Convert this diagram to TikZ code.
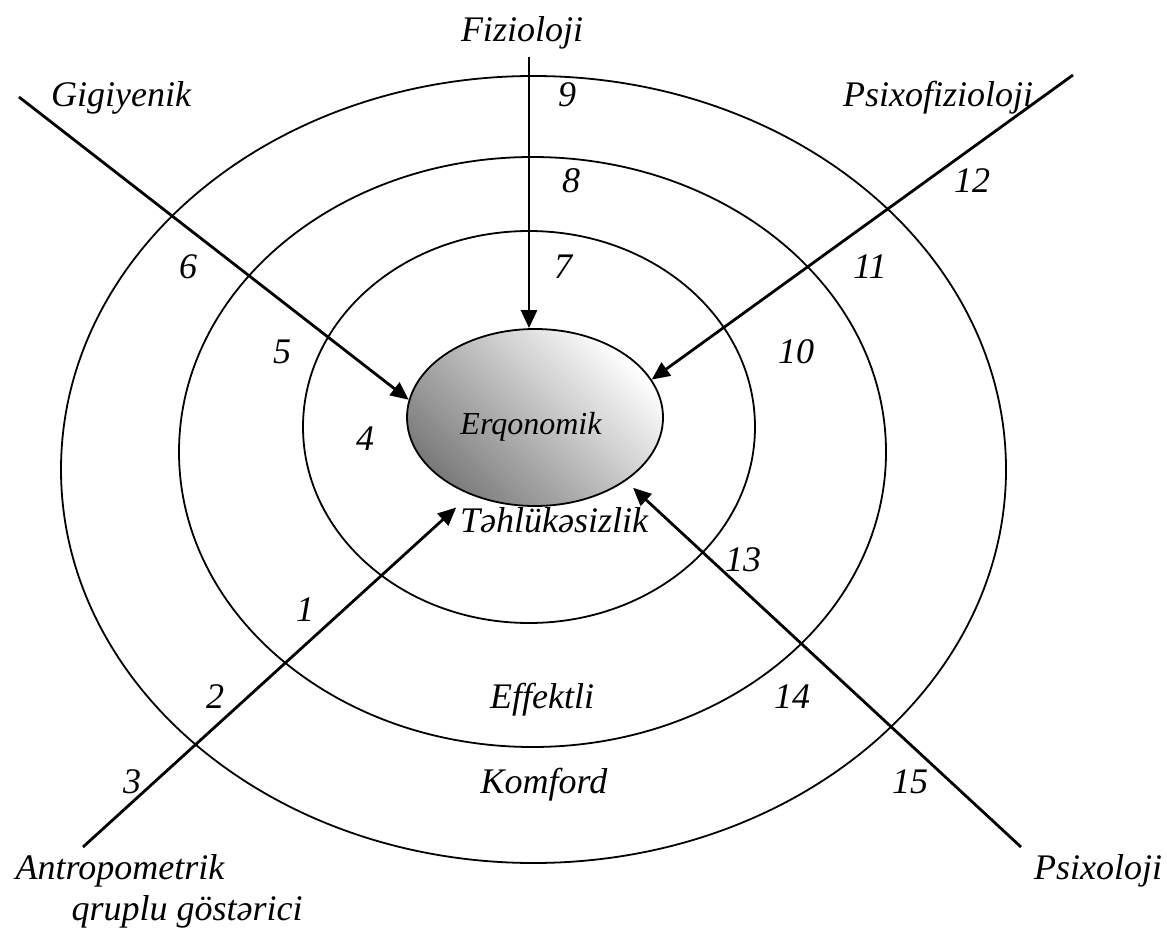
\documentclass[tikz,border=0pt]{standalone}
\usepackage{fontspec}
\setmainfont{Liberation Serif}
\usetikzlibrary{arrows.meta,shapes.geometric}
\tikzset{
  ring/.style={draw, line width=1.8pt},
  feed/.style={line width=2.8pt, -{Triangle[length=18pt,width=16pt]}},
  lbl/.style={anchor=base, inner sep=0pt, font=\fontsize{36}{40}\selectfont\itshape},
}
\begin{document}
\begin{tikzpicture}[x=1pt, y=-1pt]
    \useasboundingbox (0,0) rectangle (1167,928);

    % Rings
    \draw[ring] (533.5,469.5) ellipse [x radius=472.5, y radius=393.5];
    \draw[ring] (532.5,452) ellipse [x radius=353.5, y radius=295];
    \draw[ring] (529,427) ellipse [x radius=226, y radius=196];

    % Centre
    \node[ellipse, draw, line width=1.8pt, minimum width=256pt, minimum height=177pt,
          inner sep=0pt, top color=white, bottom color=black!52, shading angle=-45] (erq) at (535,417.5) {};
    \node[anchor=base, inner sep=0pt, font=\fontsize{32}{34}\selectfont\itshape] (lerq) at (531,434) {Erqonomik};

    % Free ends
    \coordinate (fiz) at (529,57);
    \coordinate (gig) at (19,97);
    \coordinate (psf) at (1073,75);
    \coordinate (ant) at (83,847);
    \coordinate (psx) at (1021,847);

    % Arrows
    \draw[feed] (fiz) -- (fiz |- erq.north);
    \draw[feed] (gig) -- (erq.172);
    \draw[feed] (psf) -- (erq.18);
    \draw[feed, shorten >=19pt] (ant) -- (erq.230);
    \draw[feed, shorten >=10pt] (psx) -- (erq.325);

    % Labels
    \node[lbl] (lfiz) at (522,42) {Fizioloji};
    \node[lbl] (lgig) at (121,107) {Gigiyenik};
    \node[lbl] (lpsf) at (938,107) {Psixofizioloji};
    \node[lbl] (lant) at (120,879) {Antropometrik};
    \node[lbl] (lqru) at (187,920) {qruplu göstərici};
    \node[lbl] (lpsx) at (1098,879) {Psixoloji};
    \node[lbl] (lteh) at (554,532) {Təhlükəsizlik};
    \node[lbl] (leff) at (542,708) {Effektli};
    \node[lbl] (lkom) at (544,793) {Komford};

    % Numbers
    \node[lbl] (n1) at (305,621) {1};
    \node[lbl] (n2) at (215,708) {2};
    \node[lbl] (n3) at (132,793) {3};
    \node[lbl] (n4) at (365,450) {4};
    \node[lbl] (n5) at (282,363) {5};
    \node[lbl] (n6) at (188,278) {6};
    \node[lbl] (n7) at (563,278) {7};
    \node[lbl] (n8) at (571,193) {8};
    \node[lbl] (n9) at (567,107) {9};
    \node[lbl] (n10) at (796,363) {10};
    \node[lbl] (n11) at (870,278) {11};
    \node[lbl] (n12) at (972,193) {12};
    \node[lbl] (n13) at (743,571) {13};
    \node[lbl] (n14) at (792,708) {14};
    \node[lbl] (n15) at (910,793) {15};
\end{tikzpicture}
\end{document}
